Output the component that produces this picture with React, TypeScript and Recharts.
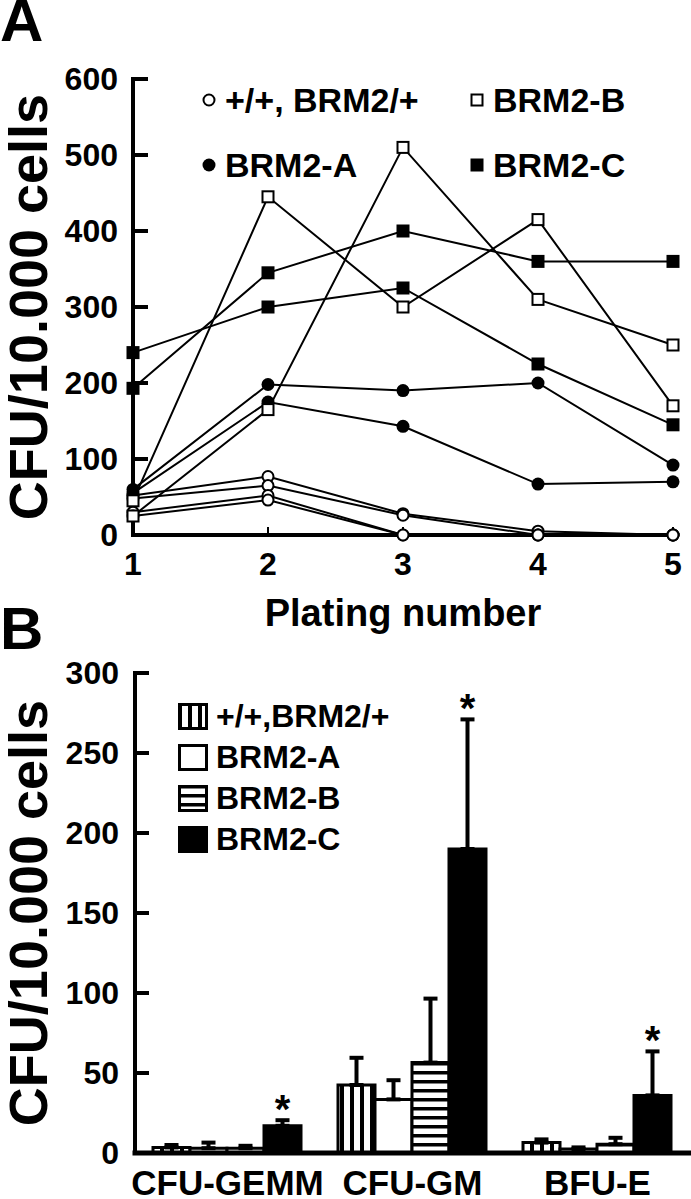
import React from "react"
import { LineChart, Line, XAxis, YAxis, BarChart, Bar, ErrorBar, LabelList } from "recharts"

const FONT = '"Liberation Sans", Arial, Helvetica, sans-serif'

// ---- panel A: serial replating ----
const platings = [1, 2, 3, 4, 5]
// +/+ and BRM2/+ (open circles)
const wildType = [
  [52, 77, 28, 5, 0],
  [48, 65, 26, 0, 0],
  [30, 52, 0, 0, 0],
  [25, 46, 0, 0, 0],
]
// BRM2-A (filled circles)
const brm2A = [
  [60, 198, 190, 200, 92],
  [55, 175, 143, 67, 70],
]
// BRM2-B (open squares)
const brm2B = [
  [45, 445, 300, 415, 170],
  [25, 165, 510, 310, 250],
]
// BRM2-C (filled squares)
const brm2C = [
  [193, 345, 400, 360, 360],
  [240, 300, 325, 225, 145],
]
const yTicksA = [0, 100, 200, 300, 400, 500, 600]

// ---- panel B: colony types ----
const categories = ["CFU-GEMM", "CFU-GM", "BFU-E"]
const wtMean = [3.5, 42.5, 6.5]
const wtErr = [1.5, 17, 2]
const aMean = [3, 33.5, 2.5]
const aErr = [3.5, 12, 1]
const bMean = [3, 56.5, 5.5]
const bErr = [1.5, 40, 4]
const cMean = [17, 190, 36]
const cErr = [3.5, 81, 27.5]
const yTicksB = [0, 50, 100, 150, 200, 250, 300]

const groups = [
  { name: "w", rows: wildType, kind: "openCircle" },
  { name: "a", rows: brm2A, kind: "filledCircle" },
  { name: "b", rows: brm2B, kind: "openSquare" },
  { name: "c", rows: brm2C, kind: "filledSquare" },
]

const lineData = platings.map((p, i) => {
  const row: any = { plating: p }
  groups.forEach((g) => g.rows.forEach((r, j) => (row[`${g.name}${j}`] = r[i])))
  return row
})

const barData = categories.map((c, i) => ({
  cat: c,
  wt: wtMean[i],
  wtE: [0, wtErr[i]],
  a: aMean[i],
  aE: [0, aErr[i]],
  b: bMean[i],
  bE: [0, bErr[i]],
  c: cMean[i],
  cE: [0, cErr[i]],
}))

const marker = (kind: string) => (p: any) => {
  const k = `${kind}-${p.index}`
  if (kind === "openCircle") return <circle key={k} cx={p.cx} cy={p.cy} r={5.5} fill="#fff" stroke="#000" strokeWidth={2} />
  if (kind === "filledCircle") return <circle key={k} cx={p.cx} cy={p.cy} r={6.5} fill="#000" />
  if (kind === "openSquare")
    return <rect key={k} x={p.cx - 5.5} y={p.cy - 5.5} width={11} height={11} fill="#fff" stroke="#000" strokeWidth={2} />
  return <rect key={k} x={p.cx - 6.5} y={p.cy - 6.5} width={13} height={13} fill="#000" />
}

const LegendMark = ({ kind }: { kind: string }) => (
  <svg width={16} height={16} style={{ marginRight: 8 }}>
    {marker(kind)({ cx: 8, cy: 8, index: 0 })}
  </svg>
)

// asterisk sits just above the error bar cap of the BRM2-C bar
const Star = (p: any) => {
  const vb = p.viewBox ?? p
  const i = p.index ?? cMean.indexOf(p.value)
  const top = vb.y - (cErr[i] * vb.height) / p.value
  return (
    <text x={vb.x + vb.width / 2} y={top + 3} textAnchor="middle" fontSize={40} fontWeight="bold" fill="#000">
      *
    </text>
  )
}

const tickFont = { fontSize: 32, fontWeight: "bold", fill: "#000" }
const legendText = { fontWeight: "bold" as const, color: "#000" }
const yLabel = {
  value: "CFU/10.000 cells",
  angle: -90,
  position: "insideLeft" as const,
  offset: 28,
  fontSize: 54,
  fontWeight: "bold",
  fill: "#000",
  style: { textAnchor: "middle" },
}

export default function App() {
  return (
    <div style={{ position: "relative", width: 691, height: 1199, fontFamily: FONT, background: "#fff", overflow: "hidden" }}>
      <style>{`body{margin:0}`}</style>
      <svg width={0} height={0} style={{ position: "absolute" }}>
        <defs>
          <pattern id="vstripe" width={10} height={10} patternUnits="userSpaceOnUse">
            <rect width={10} height={10} fill="#fff" />
            <rect x={0} width={4} height={10} fill="#000" />
          </pattern>
          <pattern id="hstripe" width={10} height={9} patternUnits="userSpaceOnUse">
            <rect width={10} height={9} fill="#fff" />
            <rect y={0} width={10} height={3.5} fill="#000" />
          </pattern>
        </defs>
      </svg>

      <div style={{ position: "absolute", left: 0, top: 1, fontSize: 60, fontWeight: "bold", lineHeight: "40px" }}>A</div>
      <div style={{ position: "absolute", left: 0, top: 609, fontSize: 60, fontWeight: "bold", lineHeight: "40px" }}>B</div>

      {/* panel A */}
      <div style={{ position: "absolute", left: 0, top: 0 }}>
        <LineChart width={691} height={642} data={lineData} margin={{ top: 79, right: 18, left: 0, bottom: 0 }}>
          <XAxis
            type="number"
            dataKey="plating"
            domain={[1, 5]}
            ticks={platings}
            height={107}
            axisLine={{ stroke: "#000", strokeWidth: 4, strokeLinecap: "square" }}
            tickLine={{ stroke: "#000", strokeWidth: 2 }}
            tickSize={-8}
            tickMargin={25}
            tick={tickFont}
            label={{ value: "Plating number", position: "insideBottom", offset: 16, fontSize: 38, fontWeight: "bold", fill: "#000" }}
          />
          <YAxis
            domain={[0, 600]}
            ticks={yTicksA}
            width={133}
            axisLine={{ stroke: "#000", strokeWidth: 4, strokeLinecap: "square" }}
            tickLine={{ stroke: "#000", strokeWidth: 4 }}
            tickSize={-15}
            tickMargin={30}
            tick={tickFont}
            label={yLabel}
          />
          {groups.map((g) =>
            g.rows.map((_, j) => (
              <Line
                key={`${g.name}${j}`}
                dataKey={`${g.name}${j}`}
                type="linear"
                stroke="#000"
                strokeWidth={2}
                dot={marker(g.kind)}
                activeDot={false}
                isAnimationActive={false}
              />
            ))
          )}
        </LineChart>
        <div style={{ position: "absolute", left: 201, top: 80, fontSize: 34, lineHeight: "40px" }}>
          <div style={{ display: "flex", height: 40, alignItems: "center" }}>
            <div style={{ width: 268, display: "flex", alignItems: "center", ...legendText }}>
              <LegendMark kind="openCircle" />
              +/+, BRM2/+
            </div>
            <div style={{ display: "flex", alignItems: "center", ...legendText }}>
              <LegendMark kind="openSquare" />
              BRM2-B
            </div>
          </div>
          <div style={{ display: "flex", height: 40, alignItems: "center", marginTop: 25 }}>
            <div style={{ width: 268, display: "flex", alignItems: "center", ...legendText }}>
              <LegendMark kind="filledCircle" />
              BRM2-A
            </div>
            <div style={{ display: "flex", alignItems: "center", ...legendText }}>
              <LegendMark kind="filledSquare" />
              BRM2-C
            </div>
          </div>
        </div>
      </div>

      {/* panel B */}
      <div style={{ position: "absolute", left: 0, top: 630 }}>
        <BarChart
          width={691}
          height={569}
          data={barData}
          margin={{ top: 43, right: 1, left: 0, bottom: 0 }}
          barCategoryGap={18}
          barGap={0}
        >
          <XAxis
            xAxisId="tk"
            type="number"
            domain={[0, 3]}
            ticks={[1, 2, 3]}
            height={0}
            axisLine={false}
            tick={false}
            tickLine={{ stroke: "#000", strokeWidth: 4 }}
            tickSize={-8}
          />
          <XAxis
            xAxisId="cat"
            dataKey="cat"
            height={46}
            axisLine={{ stroke: "#000", strokeWidth: 5, strokeLinecap: "square" }}
            tickLine={false}
            tickSize={0}
            tickMargin={17}
            tick={{ fontSize: 35, fontWeight: "bold", fill: "#000" }}
          />
          <YAxis
            domain={[0, 300]}
            ticks={yTicksB}
            width={135}
            axisLine={{ stroke: "#000", strokeWidth: 4, strokeLinecap: "square" }}
            tickLine={{ stroke: "#000", strokeWidth: 4 }}
            tickSize={-14}
            tickMargin={30}
            tick={tickFont}
            label={yLabel}
          />
          <Bar xAxisId="cat" dataKey="wt" fill="url(#vstripe)" stroke="#000" strokeWidth={3} isAnimationActive={false}>
            <ErrorBar dataKey="wtE" width={7} stroke="#000" strokeWidth={4} />
          </Bar>
          <Bar xAxisId="cat" dataKey="a" fill="#fff" stroke="#000" strokeWidth={3} isAnimationActive={false}>
            <ErrorBar dataKey="aE" width={7} stroke="#000" strokeWidth={4} />
          </Bar>
          <Bar xAxisId="cat" dataKey="b" fill="url(#hstripe)" stroke="#000" strokeWidth={3} isAnimationActive={false}>
            <ErrorBar dataKey="bE" width={7} stroke="#000" strokeWidth={4} />
          </Bar>
          <Bar xAxisId="cat" dataKey="c" fill="#000" stroke="#000" strokeWidth={3} isAnimationActive={false}>
            <ErrorBar dataKey="cE" width={7} stroke="#000" strokeWidth={4} />
            <LabelList dataKey="c" content={Star} />
          </Bar>
        </BarChart>
        <div style={{ position: "absolute", left: 178, top: 66, fontSize: 32, lineHeight: "41px" }}>
          {[
            { label: "+/+,BRM2/+", fill: "url(#vstripe)" },
            { label: "BRM2-A", fill: "#fff" },
            { label: "BRM2-B", fill: "url(#hstripe)" },
            { label: "BRM2-C", fill: "#000" },
          ].map((it) => (
            <div key={it.label} style={{ display: "flex", alignItems: "center", height: 41, ...legendText }}>
              <svg width={30} height={27} style={{ marginRight: 8 }}>
                <rect x={1.5} y={1.5} width={27} height={24} fill={it.fill} stroke="#000" strokeWidth={3} />
              </svg>
              {it.label}
            </div>
          ))}
        </div>
      </div>
    </div>
  )
}
